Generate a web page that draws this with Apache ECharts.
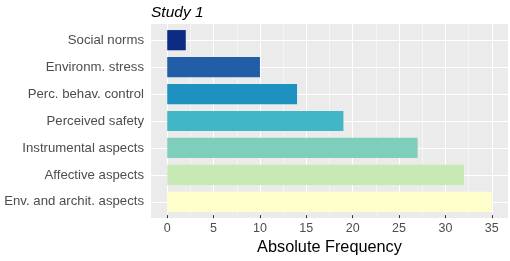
<!DOCTYPE html>
<html>
<head>
<meta charset="utf-8">
<script src="https://cdn.jsdelivr.net/npm/echarts@6/dist/echarts.min.js"></script>
<style>
  html, body { margin: 0; padding: 0; background: #fff; }
  #chart { width: 510px; height: 261px; }
</style>
</head>
<body>
<div id="chart"></div>
<script>
// data, top to bottom as in the picture
const categories = [
  "Social norms",
  "Environm. stress",
  "Perc. behav. control",
  "Perceived safety",
  "Instrumental aspects",
  "Affective aspects",
  "Env. and archit. aspects"
];
const frequency = [2, 10, 14, 19, 27, 32, 35];
const barColors = ["#0c2c84", "#225ea8", "#1d91c0", "#41b6c4", "#7fcdbb", "#c7e9b4", "#ffffcc"];
const xTicks = [0, 5, 10, 15, 20, 25, 30, 35];

const font = "Liberation Sans, Arial, sans-serif";
const chart = echarts.init(document.getElementById("chart"));

// panel box (ggplot style expansion around the data)
const panel = { left: 151, right: 2, top: 24, bottom: 43 };
const W = 510, H = 261;
const padX = 1.75 * (W - panel.left - panel.right) / 38.5;   // 5% of 0..35
const bandY = (H - panel.top - panel.bottom) / 7.2;           // 0.6 band each side
const padY = 0.1 * bandY;

chart.setOption({
  animation: false,
  title: {
    text: "Study 1",
    left: panel.left - 5,
    top: 0,
    textStyle: { fontFamily: font, fontSize: 15.5, fontStyle: "italic", fontWeight: "normal", color: "#000" }
  },
  grid: [
    // 0: panel background + horizontal grid lines
    { left: panel.left, right: panel.right, top: panel.top, bottom: panel.bottom,
      show: true, backgroundColor: "#ebebeb", borderWidth: 0 },
    // 1: value axis, vertical grid lines, full panel height
    { left: panel.left + padX, right: panel.right + padX, top: panel.top, bottom: panel.bottom },
    // 2: bars and category labels
    { left: panel.left + padX, right: panel.right + padX, top: panel.top + padY, bottom: panel.bottom + padY }
  ],
  xAxis: [
    { gridIndex: 0, type: "value", min: 0, max: 1, show: false },
    {
      gridIndex: 1,
      type: "value",
      min: xTicks[0],
      max: xTicks[xTicks.length - 1],
      interval: 5,
      axisLine: { show: false },
      axisTick: { show: true, length: 3, lineStyle: { color: "#333" } },
      axisLabel: { margin: 7, fontFamily: font, fontSize: 12.5, color: "#4d4d4d" },
      splitLine: { show: true, lineStyle: { color: "#fff", width: 1.1 } },
      minorTick: { show: false, splitNumber: 2 },
      minorSplitLine: { show: true, lineStyle: { color: "#fff", width: 0.5 } },
      name: "Absolute Frequency",
      nameLocation: "middle",
      nameGap: 24,
      nameTextStyle: { fontFamily: font, fontSize: 16.3, color: "#000" }
    },
    { gridIndex: 2, type: "value", min: xTicks[0], max: xTicks[xTicks.length - 1], show: false }
  ],
  yAxis: [
    { gridIndex: 0, type: "value", min: 0.4, max: 7.6, inverse: true, show: false },
    { gridIndex: 1, type: "value", show: false },
    {
      gridIndex: 2,
      type: "category",
      inverse: true,
      data: categories,
      offset: padX,
      axisLine: { show: false },
      axisTick: { show: true, length: 3, alignWithLabel: true, lineStyle: { color: "#333" } },
      axisLabel: { margin: 7, fontFamily: font, fontSize: 13.2, color: "#4d4d4d" },
      splitLine: { show: false }
    }
  ],
  series: [
    {
      // horizontal grid lines at category centres spanning the whole panel
      type: "line",
      xAxisIndex: 0,
      yAxisIndex: 0,
      data: [],
      z: 1,
      markLine: {
        silent: true,
        z: 1,
        symbol: "none",
        label: { show: false },
        lineStyle: { color: "#fff", width: 1.1, type: "solid" },
        data: categories.map((c, i) => ({ yAxis: i + 1 }))
      }
    },
    {
      type: "bar",
      xAxisIndex: 2,
      yAxisIndex: 2,
      barWidth: "75%",
      data: frequency.map((v, i) => ({ value: v, itemStyle: { color: barColors[i] } })),
      z: 3
    }
  ]
});
</script>
</body>
</html>
